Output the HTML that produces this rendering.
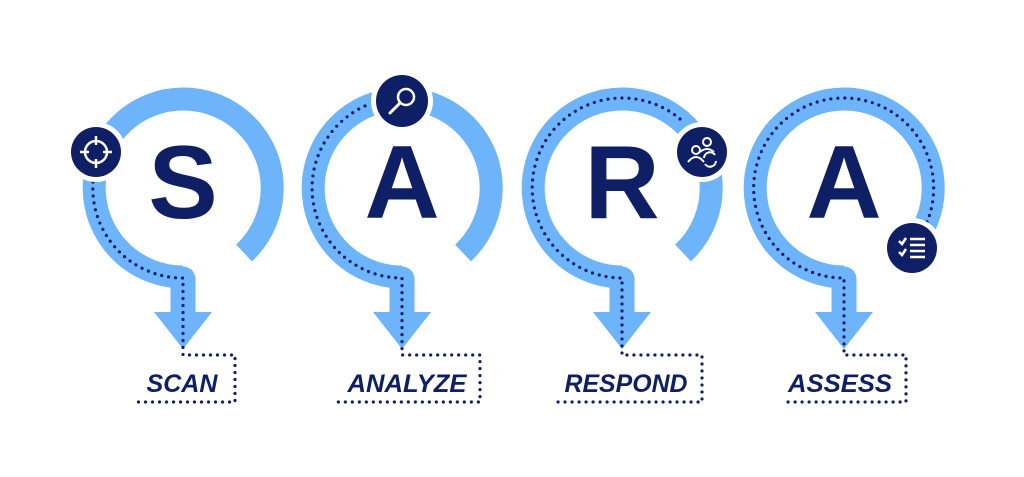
<!DOCTYPE html>
<html><head><meta charset="utf-8"><style>html,body{margin:0;padding:0;background:#fff}svg{display:block}</style></head>
<body>
<svg width="1024" height="477" viewBox="0 0 1024 477" xmlns="http://www.w3.org/2000/svg">
<defs>
<g id="ring">
  <path d="M61 253 A89 89 0 1 0 0 277" fill="none" stroke="#6db4fa" stroke-width="23"/>
  <line x1="0" y1="279" x2="0" y2="314" stroke="#6db4fa" stroke-width="25" stroke-linecap="round"/>
  <polygon points="-29,312 29,312 0,349" fill="#6db4fa"/>
</g>
</defs>

<!-- Unit 1 -->
<g transform="translate(183,0)">
  <use href="#ring"/>
  <path d="M-90 182 A90 90 0 0 0 0 278 L0 355 L52 355 L52 402 L-45 402" fill="none" stroke="#0f1f66" stroke-width="3.2" stroke-linecap="round" stroke-dasharray="0 7"/>
  <text x="0" y="218" text-anchor="middle" font-family="Liberation Sans, sans-serif" font-weight="bold" font-size="104" fill="#0f1f66">S</text>
  <text x="-1" y="392" text-anchor="middle" font-family="Liberation Sans, sans-serif" font-weight="bold" font-style="italic" font-size="25" fill="#0f1f66" textLength="71" lengthAdjust="spacingAndGlyphs">SCAN</text>
</g>
<g transform="translate(96,152)">
  <circle r="30" fill="#fff"/><circle r="25" fill="#0f1f66"/>
  <circle r="11" fill="none" stroke="#fff" stroke-width="2.5"/>
  <path d="M0 -16V-7M0 7V16M-16 0H-7M7 0H16" stroke="#fff" stroke-width="2.5"/>
</g>

<!-- Unit 2 -->
<g transform="translate(402,0)">
  <use href="#ring"/>
  <path d="M-37 106 A90 90 0 0 0 0 278 L0 355 L78 355 L78 402 L-64 402" fill="none" stroke="#0f1f66" stroke-width="3.2" stroke-linecap="round" stroke-dasharray="0 7"/>
  <text x="0" y="218" text-anchor="middle" font-family="Liberation Sans, sans-serif" font-weight="bold" font-size="104" fill="#0f1f66">A</text>
  <text x="5" y="392" text-anchor="middle" font-family="Liberation Sans, sans-serif" font-weight="bold" font-style="italic" font-size="25" fill="#0f1f66" textLength="119" lengthAdjust="spacingAndGlyphs">ANALYZE</text>
</g>
<g transform="translate(402,101)">
  <circle r="31" fill="#fff"/><circle r="26" fill="#0f1f66"/>
  <circle cx="4" cy="-4" r="8" fill="none" stroke="#fff" stroke-width="2.5"/>
  <line x1="-2" y1="2" x2="-12" y2="12" stroke="#fff" stroke-width="3" stroke-linecap="round"/>
</g>

<!-- Unit 3 -->
<g transform="translate(622,0)">
  <use href="#ring"/>
  <path d="M58 119 A90 90 0 1 0 0 278 L0 355 L80 355 L80 402 L-69 402" fill="none" stroke="#0f1f66" stroke-width="3.2" stroke-linecap="round" stroke-dasharray="0 7"/>
  <text x="0" y="218" text-anchor="middle" font-family="Liberation Sans, sans-serif" font-weight="bold" font-size="104" fill="#0f1f66">R</text>
  <text x="4" y="392" text-anchor="middle" font-family="Liberation Sans, sans-serif" font-weight="bold" font-style="italic" font-size="25" fill="#0f1f66" textLength="123" lengthAdjust="spacingAndGlyphs">RESPOND</text>
</g>
<g transform="translate(702,152)">
  <circle r="30" fill="#fff"/><circle r="25" fill="#0f1f66"/>
  <g fill="none" stroke="#fff" stroke-width="2">
    <circle cx="-6" cy="-2" r="4"/><path d="M-14 10 Q-6 0 2 10"/>
    <circle cx="5" cy="-10" r="4"/><path d="M-2 0 Q5 -6 12 0"/>
    <path d="M2 6 A6 6 0 0 1 13 3 M14 9 A6 6 0 0 1 3 12"/>
  </g>
</g>

<!-- Unit 4 -->
<g transform="translate(844,0)">
  <use href="#ring"/>
  <path d="M83 222 A90 90 0 1 0 0 278 L0 355 L62 355 L62 402 L-61 402" fill="none" stroke="#0f1f66" stroke-width="3.2" stroke-linecap="round" stroke-dasharray="0 7"/>
  <text x="0" y="218" text-anchor="middle" font-family="Liberation Sans, sans-serif" font-weight="bold" font-size="104" fill="#0f1f66">A</text>
  <text x="-4" y="392" text-anchor="middle" font-family="Liberation Sans, sans-serif" font-weight="bold" font-style="italic" font-size="25" fill="#0f1f66" textLength="104" lengthAdjust="spacingAndGlyphs">ASSESS</text>
</g>
<g transform="translate(912,248)">
  <circle r="30" fill="#fff"/><circle r="25" fill="#0f1f66"/>
  <g fill="none" stroke="#fff" stroke-width="2.5">
    <path d="M-13 -7 L-10 -4 L-6 -10 M-13 4 L-10 7 L-6 1"/>
    <path d="M-2 -9H13M-2 -3H13M-2 3H13M-2 9H13"/>
  </g>
</g>
</svg>
</body></html>
